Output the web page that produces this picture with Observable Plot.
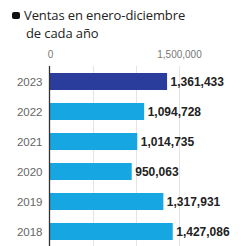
<!DOCTYPE html>
<html><head><meta charset="utf-8">
<script src="https://cdn.jsdelivr.net/npm/d3@7"></script>
<script src="https://cdn.jsdelivr.net/npm/@observablehq/plot@0.6"></script>
<style>
body{margin:0;background:#fff;}
#wrap{width:242px;height:246px;overflow:hidden;position:relative;}
#title{font-family:"Open Sans",sans-serif;font-size:13px;line-height:18px;color:#222;padding:6px 0 0 12px;height:38px;box-sizing:content-box;letter-spacing:-0.1px;}
#title .sq{display:inline-block;width:8px;height:7px;background:#111;border-radius:2px;margin-right:4px;vertical-align:1px;}
#title .l2{padding-left:14px;}
</style></head>
<body><div id="wrap"><div id="title"><div><span class="sq"></span>Ventas en enero-diciembre</div><div class="l2">de cada año</div></div><div id="chart"></div></div>
<script>
const years = ["2023","2022","2021","2020","2019","2018"];
const sales = [1361433, 1094728, 1014735, 950063, 1317931, 1427086];
const highlight = ["2023"];
const xTicks = [0, 1500000];
const gridTicks = [500000, 1000000, 1500000];
const data = years.map((y,i)=>({year:y, value:sales[i]}));
const fmt = d3.format(",");
const chart = Plot.plot({
  width:242, height:202,
  marginLeft:50, marginRight:20, marginTop:22, marginBottom:0,
  style:{fontFamily:"'Liberation Sans',Arial,sans-serif", background:"#fff"},
  x:{domain:[0,2000000], axis:null, label:null},
  y:{domain:years, paddingInner:0.45, paddingOuter:0.2, axis:null, label:null},
  marks:[
    Plot.ruleX(gridTicks,{stroke:"#e4e4e4", strokeWidth:1}),
    Plot.axisX(xTicks,{anchor:"top", tickSize:0, tickPadding:9, fontSize:10, fill:"#777", tickFormat:fmt, label:null}),
    Plot.barX(data,{y:"year", x:"value", fill:d=>highlight.includes(d.year)?"#2b3d9c":"#16a6e2", inset:0}),
    Plot.ruleX([0],{stroke:"#333", strokeWidth:1.3, dx:-1}),
    Plot.axisY(years,{anchor:"left", tickSize:0, tickPadding:8, fontSize:11.5, fill:"#666", label:null}),
    Plot.text(data,{y:"year", x:"value", text:d=>fmt(d.value), textAnchor:"start", dx:3, fontSize:12, fontWeight:"bold", fill:"#222"})
  ]
});
document.getElementById("chart").appendChild(chart);
</script></body></html>
